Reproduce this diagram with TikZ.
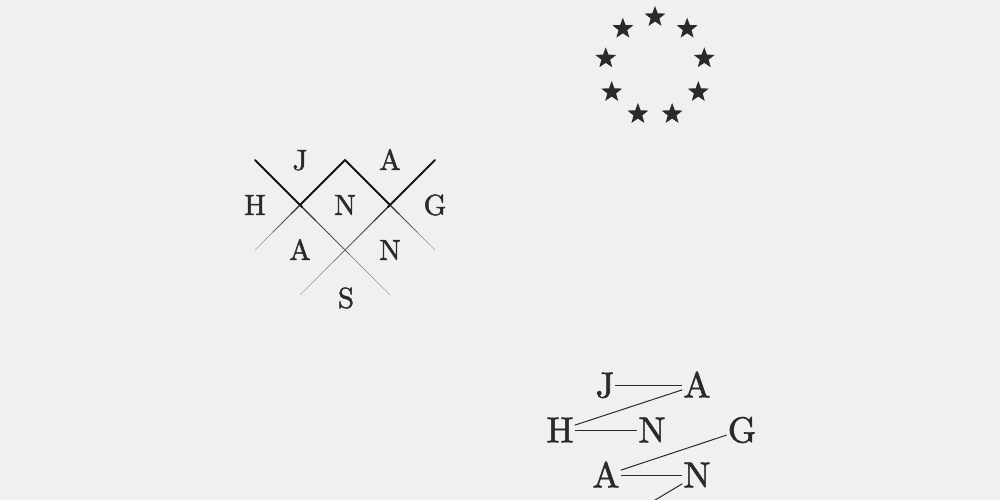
\documentclass[tikz,border=0pt]{standalone}
\usepackage{fontspec}
\usetikzlibrary{shapes.geometric,calc}
\newfontfamily\didone{lmroman10-regular.otf}[FakeBold=1.6]
\definecolor{paper}{HTML}{F0F0F0}
\definecolor{ink}{HTML}{2A2A2A}
\begin{document}
\begin{tikzpicture}[x=1pt,y=-1pt,
letter/.style = {text=ink, inner sep=1pt, text height=19.8pt, text depth=0pt, font=\didone\fontsize{29}{29}\selectfont},
bigletter/.style = {letter, text height=24.6pt, font=\didone\fontsize{36}{36}\selectfont},
eustar/.style = {star, star points=5, star point ratio=2.4, fill=ink, minimum size=22pt, inner sep=0pt},
link/.style = {draw=ink, line width=1pt}
]
\fill[paper] (0,0) rectangle (1000,500);
\useasboundingbox (0,0) rectangle (1000,500);
% ring of stars
\foreach \k in {0,...,8}
    \node[eustar] (star\k) at ({655+50*cos(90-40*\k)},{67-50*sin(90-40*\k)}) {};
% crossed lines, fading downwards
\foreach \xa/\ya/\xb/\yb in {255/160/390/295, 435/160/300/295, 345/160/435/250, 345/160/255/250}{
    \foreach \i in {1,...,20}{
        \pgfmathsetmacro\ta{(\i-1)/20}
        \pgfmathsetmacro\tb{\i/20}
        \pgfmathsetmacro\y{\ya+(\yb-\ya)*(\i-0.5)/20}
        \pgfmathsetmacro\f{max(0,(\y-205)/(\yb-205))}
        \pgfmathsetmacro\w{\y<205 ? 1.8 : 1.2-0.85*\f}
        \pgfmathsetmacro\g{\y<205 ? 92 : 88-55*\f}
        \draw[line width=\w pt, draw=black!\g, line cap=round]
            ($(\xa,\ya)!\ta!(\xb,\yb)$) -- ($(\xa,\ya)!\tb!(\xb,\yb)$);
    }
}
\node[letter] (j1) at (300,160) {J};
\node[letter] (a1) at (390,160) {A};
\node[letter] (h1) at (255,205) {H};
\node[letter] (n1) at (345,205) {N};
\node[letter] (g1) at (435,205) {G};
\node[letter] (a2) at (300,250) {A};
\node[letter] (n2) at (390,250) {N};
\node[letter] (s1) at (346,298) {S};
% letters joined in reading order
\node[bigletter] (j3) at (605,385) {J};
\node[bigletter] (a3) at (697,385) {A};
\node[bigletter] (h3) at (560,430) {H};
\node[bigletter] (n3) at (652,430) {N};
\node[bigletter] (g3) at (742,430) {G};
\node[bigletter] (a4) at (606,475) {A};
\node[bigletter] (n4) at (697,475) {N};
\coordinate (s3) at (630,515);
\draw[link] (j3) -- (a3);
\draw[link] (a3) -- (h3);
\draw[link] (h3) -- (n3);
\draw[link] (g3) -- (a4);
\draw[link] (a4) -- (n4);
\draw[link] (n4) -- (s3);
\end{tikzpicture}
\end{document}
